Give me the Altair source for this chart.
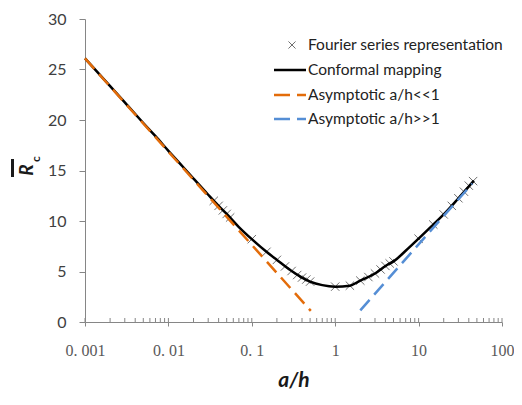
import altair as alt
import pandas as pd

# Conformal mapping curve
cm_x = [0.001, 0.002, 0.003, 0.005, 0.007, 0.01, 0.015, 0.02, 0.03, 0.04, 0.05, 0.07,
        0.1, 0.15, 0.2, 0.3, 0.4, 0.5, 0.7, 1, 1.5, 2, 3, 4, 5, 7, 10, 15, 20, 30, 46]
cm_y = [26.1, 23.35, 21.75, 19.7, 18.4, 16.95, 15.35, 14.2, 12.6, 11.5, 10.7, 9.4,
        8.2, 6.95, 6.15, 5.05, 4.4, 4.0, 3.65, 3.5, 3.6, 4.1, 4.8, 5.55, 6.0, 7.05,
        8.25, 9.65, 10.65, 12.25, 14.0]

# Fourier series representation markers
fs_x = [0.035, 0.04, 0.045, 0.05, 0.055, 0.1, 0.15, 0.2, 0.25, 0.3, 0.35, 0.4, 0.45, 0.5,
        1, 1.5, 2, 2.5, 3, 3.5, 4, 4.5, 5, 10, 15, 20, 25, 30, 35, 40, 45]
fs_y = [12.0, 11.5, 11.05, 10.7, 10.35, 8.2, 6.95, 6.15, 5.5, 5.05, 4.65, 4.4, 4.2, 4.0,
        3.5, 3.6, 4.1, 4.45, 4.8, 5.2, 5.55, 5.8, 6.0, 8.25, 9.65, 10.65, 11.5, 12.25,
        12.9, 13.5, 13.95]

# Asymptotes
lo_x = [0.001, 0.51]
lo_y = [26.1, 1.1]
hi_x = [2.0, 44]
hi_y = [1.15, 13.7]

x_ticks = [0.001, 0.01, 0.1, 1, 10, 100]
y_ticks = [0, 5, 10, 15, 20, 25, 30]
minor_ticks = [m * d for d in [0.001, 0.01, 0.1, 1, 10] for m in range(2, 10)]

legend_labels = ["Fourier series representation", "Conformal mapping",
                 "Asymptotic a/h<<1", "Asymptotic a/h>>1"]

W, H = 417, 303
BLACK = "#000000"
ORANGE = "#E36C0A"
BLUE = "#558ED5"
AXIS = "#868686"

xscale = alt.Scale(type="log", domain=[0.001, 100], nice=False)
yscale = alt.Scale(domain=[0, 30], nice=False)

xaxis = alt.Axis(values=x_ticks, format=".3~f",
                 labelExpr="replace(datum.label, '.', '. ')",
                 labelFont="Liberation Serif", labelFontSize=16, labelColor="#595959",
                 labelPadding=16, tickSize=4, grid=False,
                 title="a/h", titleFont="Lato", titleFontSize=21, titleFontWeight="bold",
                 titleFontStyle="italic", titleColor="#1a1a1a",
                 titleBaseline="middle", titleY=58,
                 domainColor=AXIS, tickColor=AXIS, labelFlush=False)
yaxis = alt.Axis(values=y_ticks, labelFont="Lato", labelFontSize=16, labelColor="#404040",
                 labelPadding=13, tickSize=6, grid=False, title=None,
                 domainColor=AXIS, tickColor=AXIS)

df_cm = pd.DataFrame({"x": cm_x, "y": cm_y})
df_fs = pd.DataFrame({"x": fs_x, "y": fs_y})
df_lo = pd.DataFrame({"x": lo_x, "y": lo_y})
df_hi = pd.DataFrame({"x": hi_x, "y": hi_y})
df_minor = pd.DataFrame({"x": minor_ticks})
df_major = pd.DataFrame({"x": x_ticks})

base_x = alt.X("x:Q", scale=xscale, axis=xaxis)
base_y = alt.Y("y:Q", scale=yscale, axis=yaxis)

XPATH = "M-1,-1L1,1M1,-1L-1,1"
fs = alt.Chart(df_fs).mark_point(shape=XPATH, size=70, filled=False, color="#333333",
                                 strokeWidth=1).encode(x=base_x, y=base_y)
cm = alt.Chart(df_cm).mark_line(color=BLACK, strokeWidth=2.5, interpolate="monotone").encode(
    x="x:Q", y="y:Q")
lo = alt.Chart(df_lo).mark_line(color=ORANGE, strokeWidth=2.5, strokeDash=[14, 7]).encode(
    x="x:Q", y="y:Q")
hi = alt.Chart(df_hi).mark_line(color=BLUE, strokeWidth=2.5, strokeDash=[14, 7]).encode(
    x="x:Q", y="y:Q")

minor = alt.Chart(df_minor).mark_rule(color=AXIS, strokeWidth=1).encode(
    x="x:Q", y=alt.value(H), y2=alt.value(H - 4))
major = alt.Chart(df_major).mark_rule(color=AXIS, strokeWidth=1).encode(
    x="x:Q", y=alt.value(H), y2=alt.value(H - 4))

# Legend
rows = [26, 51, 76, 100]
leg_text = alt.Chart(pd.DataFrame({"t": legend_labels, "r": rows})).mark_text(
    align="left", baseline="middle", font="Lato", fontSize=15.5, color="#222222").encode(
    text="t:N", x=alt.value(223), y=alt.Y("r:Q", scale=None))
leg_x = alt.Chart(pd.DataFrame({"a": [0]})).mark_point(
    shape=XPATH, size=50, filled=False, color="#333333", strokeWidth=1).encode(
    x=alt.value(207), y=alt.value(rows[0]))
leg_black = alt.Chart(pd.DataFrame({"a": [0]})).mark_rule(color=BLACK, strokeWidth=2.5).encode(
    x=alt.value(189), x2=alt.value(221), y=alt.value(rows[1]))
leg_orange = alt.Chart(pd.DataFrame({"a": [0]})).mark_rule(
    color=ORANGE, strokeWidth=2.5, strokeDash=[16, 7]).encode(
    x=alt.value(189), x2=alt.value(221), y=alt.value(rows[2]))
leg_blue = alt.Chart(pd.DataFrame({"a": [0]})).mark_rule(
    color=BLUE, strokeWidth=2.5, strokeDash=[16, 7]).encode(
    x=alt.value(189), x2=alt.value(221), y=alt.value(rows[3]))

# Y title: R with overline and subscript c
t_r = alt.Chart(pd.DataFrame({"t": ["R"]})).mark_text(
    font="Lato", fontSize=19, fontWeight="bold", fontStyle="italic", angle=270,
    color="#1a1a1a", baseline="middle", align="center").encode(
    text="t:N", x=alt.value(-58), y=alt.value(151))
t_c = alt.Chart(pd.DataFrame({"t": ["c"]})).mark_text(
    font="Lato", fontSize=12, fontWeight="bold", angle=270,
    color="#1a1a1a", baseline="middle", align="center").encode(
    text="t:N", x=alt.value(-49), y=alt.value(140))
t_bar = alt.Chart(pd.DataFrame({"a": [0]})).mark_rule(color="#1a1a1a", strokeWidth=3).encode(
    x=alt.value(-72.5), y=alt.value(140), y2=alt.value(158))

chart = alt.layer(fs, cm, lo, hi, minor, major, leg_text, leg_x, leg_black, leg_orange,
                  leg_blue, t_r, t_c, t_bar).properties(
    width=W, height=H,
    autosize=alt.AutoSizeParams(type="none"),
    padding={"left": 77, "top": 11, "right": 12, "bottom": 68},
).configure_view(stroke=None)

chart.save("out.html", embed_options={"renderer": "svg", "actions": False})
